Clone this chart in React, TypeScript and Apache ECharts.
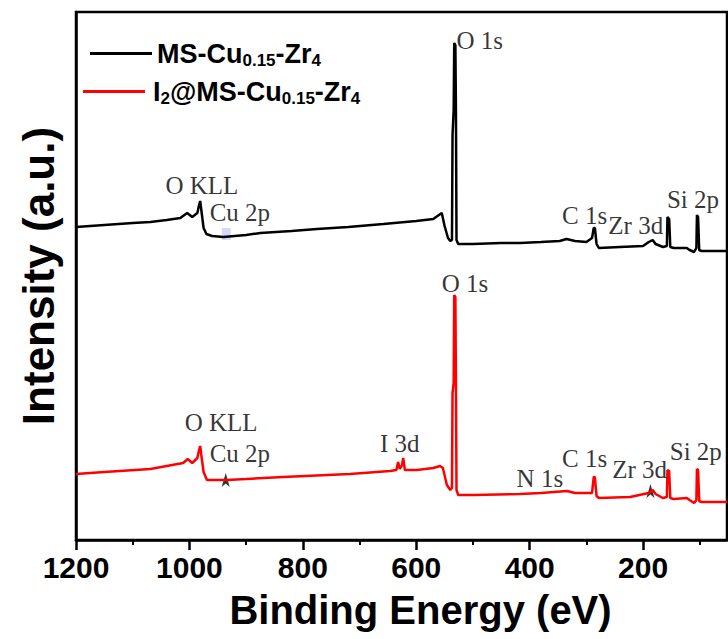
import React, { useEffect, useRef } from "react";
import * as echarts from "echarts";

// Binding energy (eV) and intensity (a.u., offset-stacked)
const BLACK_ENERGY = [1200, 1150, 1100, 1069, 1040, 1016, 1004, 995, 986, 983, 981, 979, 975, 970, 960, 940, 900, 875, 820, 775, 720, 658, 600, 570, 560, 555, 550, 544, 540, 537, 536, 534, 533, 531, 530, 529, 526, 500, 450, 417, 380, 347, 335, 320, 300, 290, 287, 285, 282, 278, 241, 200, 190, 183, 178, 165, 158, 157, 154, 152, 146, 123, 118, 110, 106, 105, 103, 101, 97, 52];
const BLACK_INTENSITY = [313, 315, 317, 318, 320, 322, 327, 323, 327, 335, 339, 330, 312, 306, 304, 303, 305, 307, 309, 311, 313, 316, 319, 321, 325, 327, 314, 302, 299, 300, 405, 430, 497, 495, 430, 300, 296, 296, 297, 297, 298, 299, 301, 299, 298, 302, 312, 312, 296, 292, 293, 294, 298, 300, 296, 293, 294, 323, 321, 293, 292, 292, 290, 288, 292, 325, 323, 290, 289, 289];

const RED_ENERGY = [1200, 1150, 1069, 1040, 1011, 1003, 995, 986, 983, 981, 979, 975, 969, 934, 900, 835, 717, 646, 635, 632, 629, 625, 623, 620, 599, 570, 558, 553, 546, 540, 537, 536, 534, 533, 531, 530, 529, 526, 500, 417, 380, 334, 320, 290, 287, 285, 282, 278, 223, 190, 183, 178, 165, 158, 157, 154, 152, 146, 123, 118, 110, 106, 105, 103, 101, 97, 52];
const RED_INTENSITY = [66, 68, 71, 74, 77, 81, 77, 82, 90, 94, 85, 68, 60, 60, 61, 63, 66, 69, 70, 78, 71, 75, 82, 70, 70, 72, 74, 72, 55, 50, 52, 147, 157, 245, 243, 157, 50, 45, 45, 46, 47, 49, 47, 47, 63, 63, 44, 42, 43, 47, 50, 46, 42, 43, 70, 69, 42, 41, 42, 40, 37, 40, 71, 70, 39, 38, 38];

const SERIES_NAMES = ["MS-Cu0.15-Zr4", "I2@MS-Cu0.15-Zr4"];

// Peak annotations: [label, energy, intensity]
const BLACK_LABELS: [string, number, number][] = [
  ["O KLL", 978, 355],
  ["Cu 2p", 911, 328],
  ["O 1s", 488, 500],
  ["C 1s", 303, 325],
  ["Zr 3d", 213, 315],
  ["Si 2p", 112, 341],
];
const RED_LABELS: [string, number, number][] = [
  ["O KLL", 944, 118],
  ["Cu 2p", 911, 87],
  ["I 3d", 629, 97],
  ["O 1s", 514, 257],
  ["N 1s", 382, 62],
  ["C 1s", 303, 82],
  ["Zr 3d", 206, 71],
  ["Si 2p", 107, 89],
];
// small black arrows in the lower spectrum: [energy, intensity]
const ARROWS: [number, number][] = [
  [936, 67],
  [187, 56],
];
const MAJOR_TICKS = [1200, 1000, 800, 600, 400, 200];
const MINOR_TICKS = [1100, 900, 700, 500, 300, 100];

const SANS = "'Liberation Sans', Arial, sans-serif";
const SERIF = "'Liberation Serif', 'Times New Roman', serif";

function zip(a: number[], b: number[]) {
  return a.map((v, i) => [v, b[i]]);
}

export default function App() {
  const ref = useRef<HTMLDivElement>(null);
  useEffect(() => {
    if (!ref.current) return;
    const chart = echarts.init(ref.current, null, { renderer: "svg" });
    const rich = {
      a: { fontSize: 27, fontWeight: "bold", fontFamily: SANS, color: "#000", lineHeight: 30, verticalAlign: "middle" },
      s: { fontSize: 17, fontWeight: "bold", fontFamily: SANS, color: "#000", lineHeight: 17, verticalAlign: "bottom" },
    };
    const fmt = (name: string) =>
      name === SERIES_NAMES[0]
        ? "{a|MS-Cu}{s|0.15}{a|-Zr}{s|4}"
        : "{a|I}{s|2}{a|@MS-Cu}{s|0.15}{a|-Zr}{s|4}";
    const labelSeries = (arr: [string, number, number][]) => ({
      type: "scatter",
      symbolSize: 1,
      itemStyle: { color: "rgba(0,0,0,0)" },
      silent: true,
      z: 5,
      data: arr.map(([n, e, v]) => ({ name: n, value: [e, v] })),
      label: {
        show: true,
        position: "inside",
        formatter: (p: any) => p.name,
        fontFamily: SERIF,
        fontSize: 25,
        color: "#000",
      },
    });
    chart.setOption({
      animation: false,
      grid: { left: 76, right: 1, top: 12, bottom: 99, show: true, borderColor: "#000", borderWidth: 2.5 },
      legend: [
        {
          data: [SERIES_NAMES[0]],
          left: 90,
          top: 40,
          padding: 0,
          icon: "rect",
          itemWidth: 62,
          itemHeight: 3,
          formatter: fmt,
          textStyle: { rich },
        },
        {
          data: [SERIES_NAMES[1]],
          left: 83,
          top: 78,
          padding: 0,
          icon: "rect",
          itemWidth: 62,
          itemHeight: 3,
          formatter: fmt,
          textStyle: { rich, padding: [0, 0, 0, 3] },
        },
      ],
      xAxis: [
        {
          type: "value",
          min: 52,
          max: 1200,
          inverse: true,
          splitLine: { show: false },
          axisLine: { lineStyle: { color: "#000", width: 2.5 } },
          axisTick: { customValues: MAJOR_TICKS, length: 10, lineStyle: { color: "#000", width: 2.5 } },
          axisLabel: {
            customValues: MAJOR_TICKS,
            formatter: (v: number) => String(v),
            margin: 12,
            fontSize: 30,
            fontWeight: "bold",
            fontFamily: SANS,
            color: "#000",
          },
          name: "Binding Energy (eV)",
          nameLocation: "middle",
          nameGap: 50,
          nameTextStyle: { fontSize: 40, fontWeight: "bold", fontFamily: SANS, color: "#000", padding: [0, 0, 0, 38] },
        },
        {
          type: "value",
          min: 52,
          max: 1200,
          inverse: true,
          position: "bottom",
          splitLine: { show: false },
          axisLine: { show: false },
          axisTick: { customValues: MINOR_TICKS, length: 5, lineStyle: { color: "#000", width: 2 } },
          axisLabel: { show: false },
        },
      ],
      yAxis: {
        type: "value",
        min: 0,
        max: 528,
        splitLine: { show: false },
        axisLine: { show: true, lineStyle: { color: "#000", width: 2.5 } },
        axisTick: { show: false },
        axisLabel: { show: false },
        name: "Intensity (a.u.)",
        nameLocation: "middle",
        nameGap: 16,
        nameTextStyle: { fontSize: 44, fontWeight: "bold", fontFamily: SANS, color: "#000" },
      },
      series: [
        {
          name: SERIES_NAMES[0],
          type: "line",
          showSymbol: false,
          color: "#000",
          lineStyle: { width: 2.5, color: "#000" },
          data: zip(BLACK_ENERGY, BLACK_INTENSITY),
        },
        {
          name: SERIES_NAMES[1],
          type: "line",
          showSymbol: false,
          color: "#ff0000",
          lineStyle: { width: 2.5, color: "#ff0000" },
          data: zip(RED_ENERGY, RED_INTENSITY),
        },
        labelSeries(BLACK_LABELS),
        labelSeries(RED_LABELS),
        {
          type: "scatter",
          symbol: "arrow",
          symbolSize: [6, 14],
          itemStyle: { color: "#000" },
          silent: true,
          data: ARROWS,
        },
        {
          type: "scatter",
          symbol: "rect",
          symbolSize: [9, 12],
          itemStyle: { color: "rgba(110,110,230,0.35)" },
          silent: true,
          data: [[935, 306]],
        },
      ],
    });
    return () => chart.dispose();
  }, []);
  return <div ref={ref} style={{ width: 728, height: 639, position: "absolute", left: 0, top: 0 }} />;
}
